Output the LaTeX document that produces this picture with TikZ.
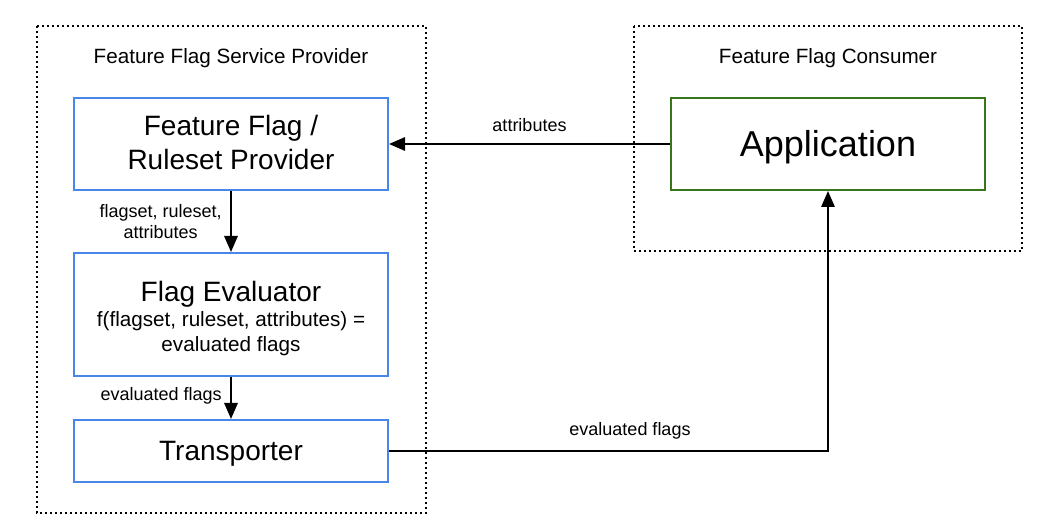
\documentclass[tikz,border=0pt]{standalone}
\usepackage{fontspec}
\setmainfont{Liberation Sans}
\usetikzlibrary{arrows.meta}
\definecolor{boxblue}{HTML}{4A86E8}
\definecolor{boxgreen}{HTML}{38761D}
\begin{document}
\begin{tikzpicture}[x=0.75pt,y=-0.75pt,
  group/.style={draw=black, line width=1.5pt, dash pattern=on 1.5pt off 2.25pt},
  bluebox/.style={draw=boxblue, line width=1.5pt, minimum width=235.5pt, inner sep=0pt},
  greenbox/.style={draw=boxgreen, line width=1.5pt, minimum width=235.5pt, minimum height=69pt, inner sep=0pt},
  boxtext/.style={inner sep=0pt, align=center, text depth=0pt, anchor=south, font=\fontsize{21}{25.5}\selectfont},
  title/.style={font=\fontsize{15.5}{18.5}\selectfont, inner sep=0pt, anchor=base},
  lbl/.style={font=\fontsize{13.5}{15.75}\selectfont, inner sep=0pt, align=center, text depth=0pt},
  conn/.style={line width=1.5pt, -{Triangle[length=12pt,width=10pt]}}
]
\useasboundingbox (0,0) rectangle (1052,530);
\draw[group] (37,26) rectangle (426,513);
\draw[group] (634,26) rectangle (1022,251);
\node[title] (t1) at (231,64) {Feature Flag Service Provider};
\node[title] (t2) at (828,63.5) {Feature Flag Consumer};
\node[bluebox, minimum height=69pt] (prov) at (231,144) {};
\node[bluebox, minimum height=92.25pt] (eval) at (231,314.5) {};
\node[bluebox, minimum height=46.5pt] (trans) at (231,451) {};
\node[greenbox] (app) at (828,144) {};
\node[boxtext] (provt) at (231,170) {Feature Flag /\\Ruleset Provider};
\node[boxtext, font=\fontsize{15.5}{18.75}\selectfont] (evalt) at (231,352) {{\fontsize{21}{21.75}\selectfont Flag Evaluator}\\f(flagset, ruleset, attributes) =\\evaluated flags};
\node[boxtext] (transt) at (231,461) {Transporter};
\node[boxtext, font=\fontsize{27}{32}\selectfont] (appt) at (828,157) {Application};
\coordinate (corner) at (app.south |- trans.east);
\draw[conn] (app.west) -- node[lbl, anchor=south, yshift=8.25pt] (l1) {attributes} (prov.east);
\draw[conn] (prov.south) -- (eval.north);
\draw[conn] (eval.south) -- (trans.north);
\draw[conn] (trans.east) -- (corner) -- (app.south);
\node[lbl, anchor=south east] (l2) at (222,239) {flagset, ruleset,\\attributes};
\node[lbl, anchor=south east] (l3) at (222,401) {evaluated flags};
\node[lbl, anchor=south] (l4) at (630,436) {evaluated flags};
\end{tikzpicture}
\end{document}
